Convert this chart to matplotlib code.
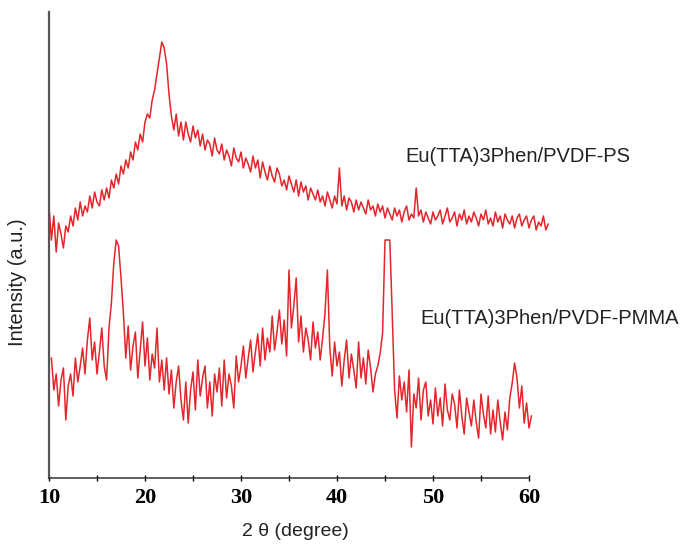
import numpy as np
import matplotlib
matplotlib.use("Agg")
import matplotlib.pyplot as plt

# === Data (2 theta step 0.25 deg, arbitrary intensity) ===
ps_start, ps_step = 10.0, 0.25
ps_intensity = [
    272, 238, 262, 226, 255, 244, 230, 252,
    246, 262, 252, 270, 258, 276, 262, 272,
    266, 282, 270, 286, 276, 272, 288, 278,
    290, 280, 298, 290, 304, 294, 312, 304,
    318, 310, 326, 318, 336, 328, 344, 336,
    356, 364, 360, 378, 388, 404, 420, 436,
    430, 414, 384, 362, 348, 364, 342, 356,
    338, 356, 344, 336, 352, 340, 348, 332,
    344, 328, 338, 334, 322, 340, 328, 324,
    334, 318, 328, 322, 312, 330, 320, 316,
    326, 310, 320, 314, 306, 322, 310, 318,
    300, 316, 306, 298, 312, 302, 296, 310,
    304, 292, 298, 288, 302, 294, 286, 298,
    282, 296, 286, 292, 278, 290, 284, 278,
    288, 276, 282, 272, 286, 278, 270, 282,
    274, 310, 272, 282, 268, 280, 276, 266,
    278, 268, 276, 270, 264, 278, 268, 272,
    262, 274, 266, 272, 260, 270, 264, 258,
    270, 262, 268, 256, 266, 272, 258, 264,
    260, 290, 262, 268, 256, 266, 260, 254,
    266, 258, 262, 268, 254, 262, 270, 256,
    260, 266, 252, 264, 258, 268, 254, 262,
    256, 266, 260, 252, 264, 258, 268, 254,
    260, 252, 266, 256, 262, 250, 264, 258,
    254, 262, 250, 260, 264, 252, 258, 262,
    250, 258, 262, 248, 256, 252, 262, 248,
    254,
]

pmma_start, pmma_step = 10.25, 0.25
pmma_intensity = [
    120, 88, 104, 72, 98, 110, 58, 92,
    104, 82, 120, 96, 112, 130, 104, 138,
    160, 118, 136, 104, 126, 150, 112, 98,
    150, 175, 215, 238, 232, 200, 165, 120,
    152, 108, 132, 146, 100, 128, 156, 112,
    140, 98, 124, 110, 150, 96, 118, 88,
    120, 84, 108, 70, 96, 112, 78, 58,
    96, 55, 88, 106, 68, 118, 82, 100,
    112, 70, 96, 62, 104, 86, 110, 72,
    118, 80, 104, 92, 70, 122, 96, 112,
    132, 100, 120, 138, 106, 126, 144, 112,
    150, 118, 140, 126, 162, 128, 146, 168,
    134, 158, 122, 208, 150, 172, 200, 136,
    162, 126, 150, 138, 118, 156, 130, 146,
    118, 140, 165, 208, 130, 102, 136, 112,
    126, 92, 118, 138, 100, 124, 108, 90,
    136, 100, 120, 94, 128, 110, 86, 104,
    112, 125, 145, 238, 238, 238, 165, 88,
    60, 102, 78, 96, 66, 108, 31, 84,
    70, 100, 58, 88, 96, 62, 78, 54,
    90, 62, 80, 52, 94, 68, 58, 84,
    74, 50, 88, 62, 44, 80, 66, 52,
    78, 56, 40, 84, 64, 50, 82, 44,
    68, 46, 78, 56, 38, 66, 48, 80,
    95, 115, 100, 70, 92, 55, 75, 50,
    62,
]

labels = ['Eu(TTA)3Phen/PVDF-PS', 'Eu(TTA)3Phen/PVDF-PMMA']
ticks = [10, 20, 30, 40, 50, 60]

ps_x = ps_start + ps_step * np.arange(len(ps_intensity))
pmma_x = pmma_start + pmma_step * np.arange(len(pmma_intensity))

# === Figure ===
red = '#e3262b'
fig = plt.figure(figsize=(6.91, 5.44), dpi=100)
ax = fig.add_axes([49 / 691, 66 / 544, 504 / 691, 466 / 544])

ax.plot(ps_x, ps_intensity, color=red, lw=1.1)
ax.plot(pmma_x, pmma_intensity, color=red, lw=1.1)

ax.text(47.1, 321, labels[0], fontsize=14.5, family='Liberation Sans',
        color='#222222', ha='left', va='center')
ax.text(48.65, 160, labels[1], fontsize=14.5, family='Liberation Sans',
        color='#222222', ha='left', va='center', clip_on=False)

ax.set_xlim(10, 62.5)
ax.set_ylim(0, 466)
ax.spines['top'].set_visible(False)
ax.spines['right'].set_visible(False)
ax.spines['bottom'].set_bounds(10, 60)
ax.spines['left'].set_color('#555555')
ax.spines['left'].set_linewidth(1.6)
ax.spines['bottom'].set_color('#333333')
ax.spines['bottom'].set_linewidth(1.1)

ax.set_yticks([])
ax.set_xticks(ticks)
ax.set_xticks([15, 25, 35, 45, 55], minor=True)
ax.tick_params(axis='x', which='major', direction='inout', length=5, width=1, pad=5)
ax.tick_params(axis='x', which='minor', direction='inout', length=4, width=1)
for lab in ax.get_xticklabels():
    lab.set_fontfamily('Liberation Serif')
    lab.set_fontweight('bold')
    lab.set_fontsize(16)

fig.text(295 / 691, 1 - 532 / 544, '2 θ (degree)', fontsize=14,
         family='Liberation Sans', ha='center', va='center', color='#222222')
fig.text(18 / 691, 1 - 282 / 544, 'Intensity (a.u.)', fontsize=14.5,
         family='Liberation Sans', ha='center', va='center', rotation=90,
         color='#222222')

fig.savefig('out.png', dpi=100)
